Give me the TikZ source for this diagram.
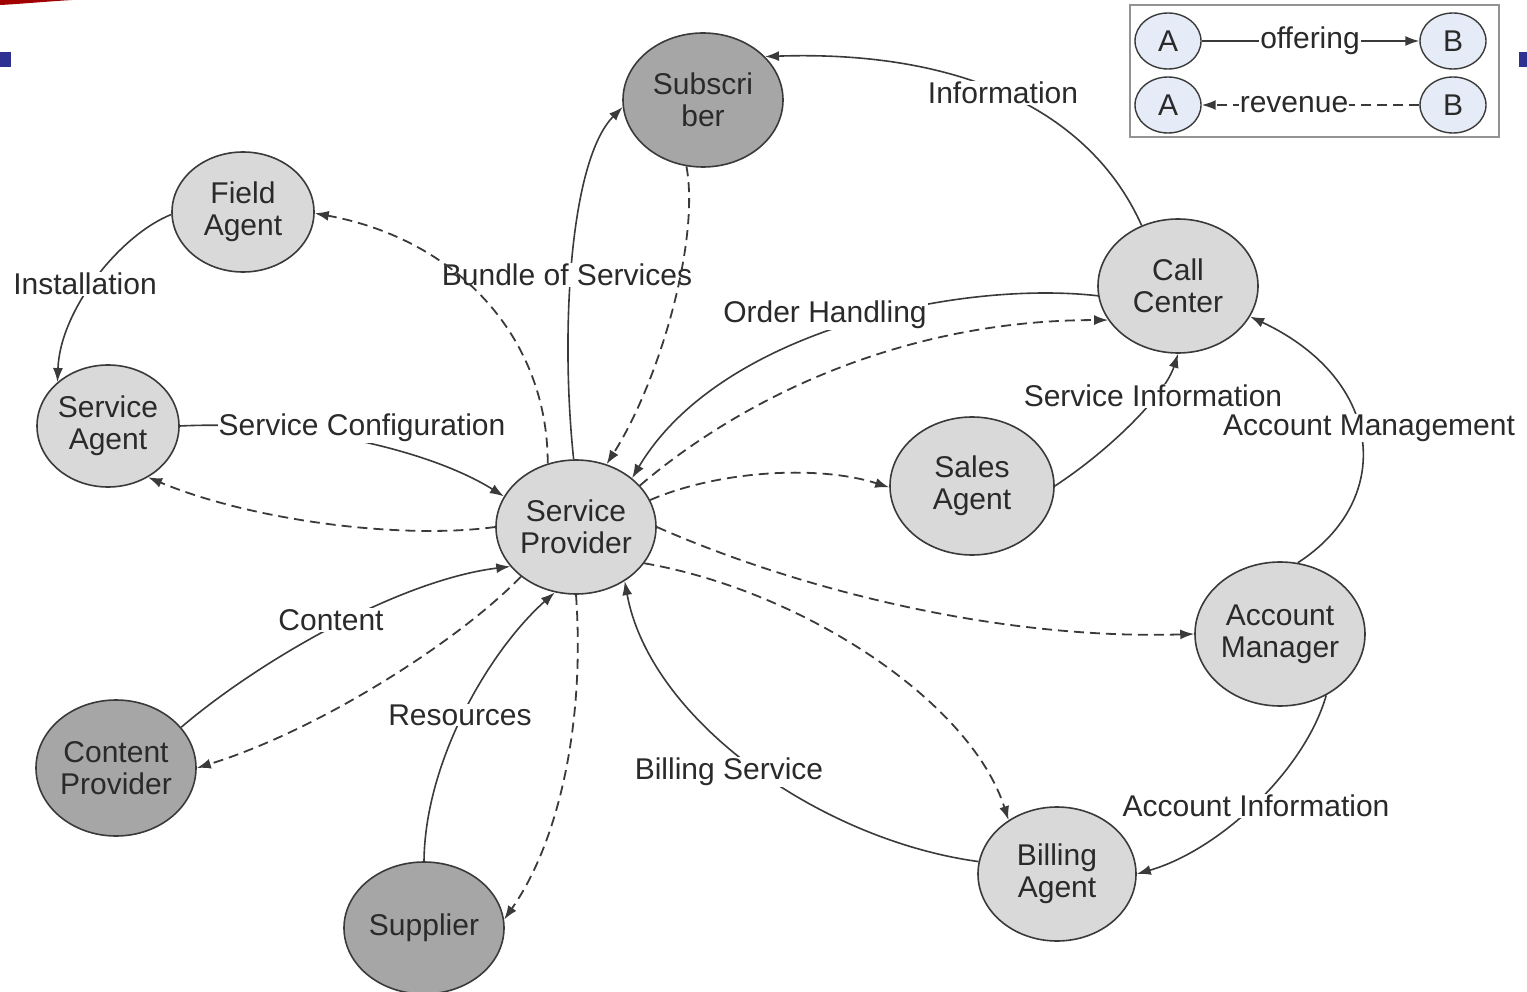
\documentclass[tikz,border=0pt]{standalone}
\usepackage{fontspec}
\setmainfont{Liberation Sans}
\usetikzlibrary{shapes.geometric,arrows.meta}
\definecolor{lightnode}{HTML}{D9D9D9}
\definecolor{darknode}{HTML}{A6A6A6}
\definecolor{edgecol}{HTML}{3A3A3A}
\definecolor{legfill}{HTML}{E6ECF7}
\definecolor{slideblue}{HTML}{2E3192}
\definecolor{slidered}{HTML}{A00000}
\definecolor{txt}{HTML}{2A2A2A}
\begin{document}
\begin{tikzpicture}[x=1pt,y=-1pt,
 font=\fontsize{30}{32}\selectfont,
 ent/.style={ellipse, draw=edgecol, line width=1.6pt, fill=lightnode, text=txt, align=center, inner sep=0pt},
 dark/.style={ent, fill=darknode},
 lbl/.style={fill=white, text=txt, inner sep=1pt},
 leg/.style={ellipse, draw=edgecol, line width=1.4pt, fill=legfill, text=txt, minimum width=66pt, minimum height=56pt, inner sep=0pt},
 offer/.style={draw=edgecol, line width=1.6pt, -{Latex[length=14pt,width=10pt]}},
 rev/.style={offer, line width=1.8pt, dash pattern=on 10pt off 6pt},
]
\useasboundingbox (0,0) rectangle (1527,992);

% slide decorations
\fill[slidered] (0,0) -- (72,0) .. controls (40,2) and (20,4) .. (0,5) -- cycle;
\fill[slideblue] (0,52) rectangle (11,67);
\fill[slideblue] (1519,52) rectangle (1527,67);

% nodes
\node[dark, minimum width=160pt, minimum height=134pt] (sub) at (703,100) {Subscri\\ber};
\node[ent, minimum width=142pt, minimum height=120pt] (fa) at (243,212) {Field\\Agent};
\node[ent, minimum width=142pt, minimum height=122pt] (sa) at (108,426) {Service\\Agent};
\node[ent, minimum width=160pt, minimum height=134pt] (sp) at (576,527) {Service\\Provider};
\node[ent, minimum width=160pt, minimum height=134pt] (cc) at (1178,286) {Call\\Center};
\node[ent, minimum width=164pt, minimum height=138pt] (sal) at (972,486) {Sales\\Agent};
\node[ent, minimum width=170pt, minimum height=144pt] (am) at (1280,634) {Account\\Manager};
\node[dark, minimum width=160pt, minimum height=136pt] (cp) at (116,768) {Content\\Provider};
\node[dark, minimum width=160pt, minimum height=132pt] (sup) at (424,928) {Supplier};
\node[ent, minimum width=158pt, minimum height=134pt] (ba) at (1057,874) {Billing\\Agent};

% offering (solid) connectors
\draw[offer] (cc.121) .. controls (1090,110) and (960,50) .. (sub.35);
\draw[offer] (sp.92) .. controls (560,330) and (570,160) .. (sub.185);
\draw[offer] (fa.182) .. controls (120,235) and (60,310) .. (sa.139);
\draw[offer] (sa.0) .. controls (300,420) and (430,450) .. (sp.157);
\draw[offer] (cc.187) .. controls (960,280) and (720,330) .. (sp.41);
\draw[offer] (sal.0) .. controls (1110,450) and (1165,395) .. (cc.270);
\draw[offer] (am.76) .. controls (1395,500) and (1385,380) .. (cc.337);
\draw[offer] (am.307) .. controls (1305,770) and (1220,850) .. (ba.0);
\draw[offer] (ba.171) .. controls (820,840) and (650,720) .. (sp.312);
\draw[offer] (cp.32) .. controls (260,660) and (400,580) .. (sp.211);
\draw[offer] (sup.90) .. controls (425,760) and (490,650) .. (sp.252);

% labels
\node[lbl] (lInfo) at (1003,93) {Information};
\node[lbl] (lBundle) at (567,275) {Bundle of Services};
\node[lbl] (lInst) at (85,284) {Installation};
\node[lbl] (lConf) at (362,428) {Service Configuration};
\node[lbl] (lOrder) at (825,315) {Order Handling};
\node[lbl] (lSInfo) at (1153,396) {Service Information};
\node[lbl] (lAMgmt) at (1369,428) {Account Management};
\node[lbl] (lAInfo) at (1256,806) {Account Information};
\node[lbl] (lBill) at (729,772) {Billing Service};
\node[lbl] (lCont) at (331,620) {Content};
\node[lbl] (lRes) at (460,715) {Resources};

% revenue (dashed) connectors
\draw[rev] (sub.256) .. controls (700,240) and (660,380) .. (sp.64);
\draw[rev] (sp.114) .. controls (548,340) and (460,240) .. (fa.359);
\draw[rev] (sp.180) .. controls (400,540) and (250,520) .. (sa.308);
\draw[rev] (sp.33) .. controls (740,400) and (900,320) .. (cc.206);
\draw[rev] (sp.20) .. controls (720,470) and (820,465) .. (sal.181);
\draw[rev] (sp.0) .. controls (800,590) and (1000,640) .. (am.180);
\draw[rev] (sp.332) .. controls (800,590) and (970,700) .. (ba.132);
\draw[rev] (sp.222) .. controls (460,640) and (320,730) .. (cp.0);
\draw[rev] (sp.270) .. controls (585,720) and (560,840) .. (sup.6);

% legend
\draw[draw=gray!85, line width=2.5pt] (1130,5) rectangle (1499,137);
\node[leg] (la1) at (1168,41) {A};
\node[leg] (lb1) at (1453,41) {B};
\node[leg] (la2) at (1168,105) {A};
\node[leg] (lb2) at (1453,105) {B};
\draw[offer] (la1) -- (lb1);
\node[lbl] (lOff) at (1310,41) {offering};
\draw[rev] (lb2) -- (la2);
\node[lbl] (lRev) at (1294,105) {revenue};
\end{tikzpicture}
\end{document}
